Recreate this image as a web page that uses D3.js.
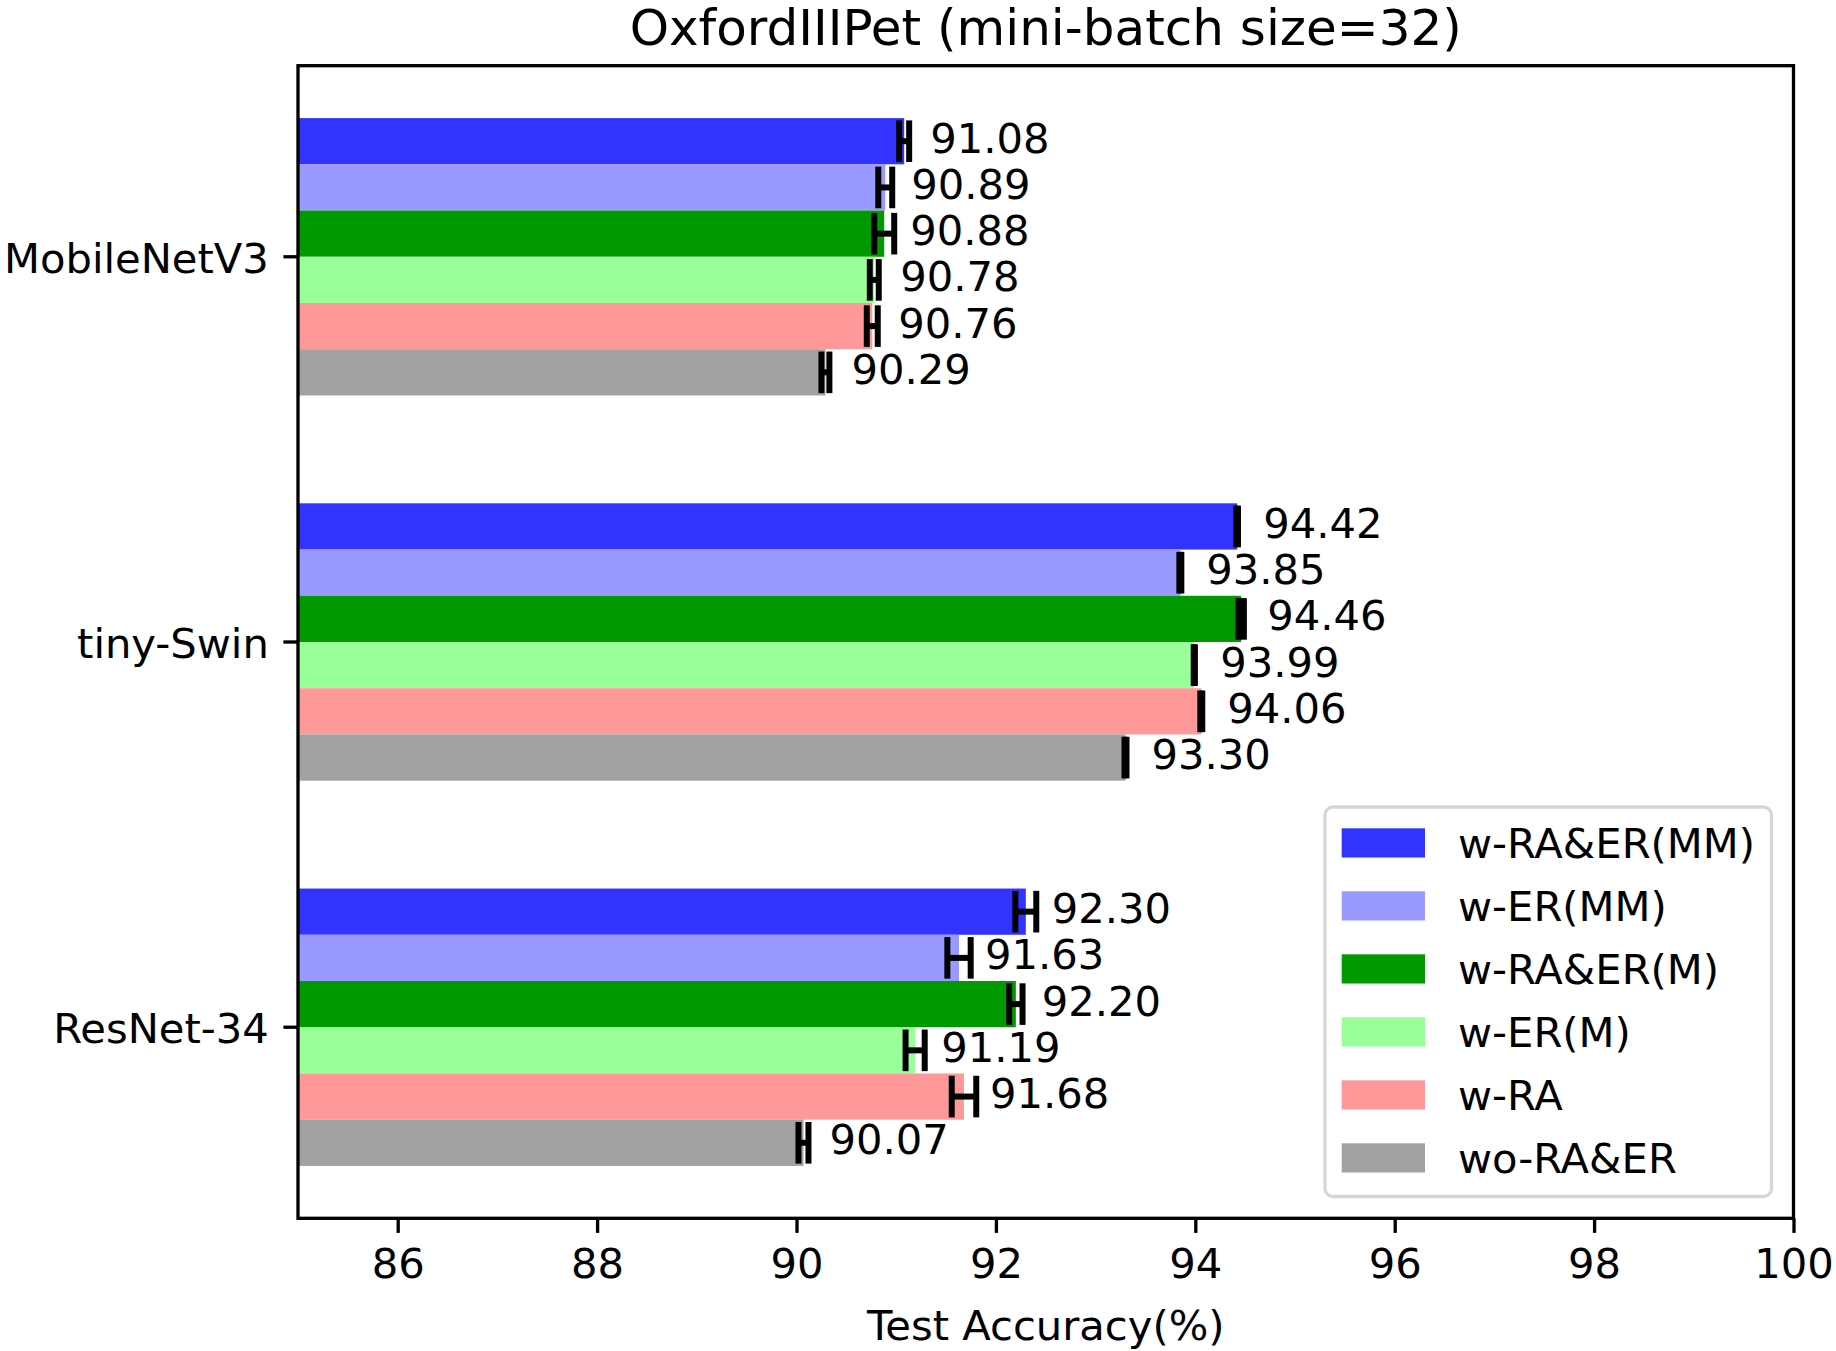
<!DOCTYPE html>
<html lang="en">
<head>
<meta charset="UTF-8"/>
<script src="https://cdn.jsdelivr.net/npm/d3@7"></script>
<style>
body { margin: 0; background: white; }
svg { display: block; }
text { font-family: 'DejaVu Sans', sans-serif; fill: black; }
</style>
</head>
<body>
<svg width="1836" height="1351"></svg>
<script>
// data
const models = ['MobileNetV3', 'tiny-Swin', 'ResNet-34'];
const methods = ['w-RA&ER(MM)', 'w-ER(MM)', 'w-RA&ER(M)', 'w-ER(M)', 'w-RA', 'wo-RA&ER'];
const colors = ['#3333ff', '#9999ff', '#009900', '#99ff99', '#ff9999', '#a2a2a2'];

const accMobileNet = [91.08, 90.89, 90.88, 90.78, 90.76, 90.29];
const errMobileNet = [0.05, 0.07, 0.10, 0.045, 0.055, 0.04];
const accSwin = [94.42, 93.85, 94.46, 93.99, 94.06, 93.30];
const errSwin = [0.008, 0.01, 0.027, 0.006, 0.01, 0.01];
const accResNet = [92.30, 91.63, 92.20, 91.19, 91.68, 90.07];
const errResNet = [0.105, 0.117, 0.067, 0.096, 0.123, 0.05];

const xTicks = [86, 88, 90, 92, 94, 96, 98, 100];

const acc = [accMobileNet, accSwin, accResNet];
const err = [errMobileNet, errSwin, errResNet];

const svg = d3.select('svg');

const plotL = 298, plotR = 1793.5, plotT = 65.7, plotB = 1218.3;
const barH = 0.12;

const x = d3.scaleLinear().domain([85, 100]).range([plotL, plotR]);
const y = d3.scaleLinear().domain([-0.496, 2.496]).range([plotT, plotB]);

const rows = [];
models.forEach((m, i) => {
  methods.forEach((k, j) => {
    rows.push({
      model: i, method: j, v: acc[i][j], e: err[i][j],
      c: i - 0.36 + (j + 0.5) * barH
    });
  });
});

const hPx = y(barH) - y(0);

// bars
svg.append('g').selectAll('rect')
  .data(rows).join('rect')
  .attr('x', x(85))
  .attr('y', d => y(d.c) - hPx / 2)
  .attr('width', d => x(d.v) - x(85))
  .attr('height', hPx)
  .attr('fill', d => colors[d.method]);

// error bars
const eb = svg.append('g').attr('stroke', 'black').attr('stroke-width', 6);
const cap = 20.8;
eb.selectAll('line.h').data(rows).join('line').attr('class', 'h')
  .attr('x1', d => x(d.v - d.e)).attr('x2', d => x(d.v + d.e))
  .attr('y1', d => y(d.c)).attr('y2', d => y(d.c));
eb.selectAll('line.cl').data(rows).join('line').attr('class', 'cl')
  .attr('x1', d => x(d.v - d.e)).attr('x2', d => x(d.v - d.e))
  .attr('y1', d => y(d.c) - cap).attr('y2', d => y(d.c) + cap);
eb.selectAll('line.cr').data(rows).join('line').attr('class', 'cr')
  .attr('x1', d => x(d.v + d.e)).attr('x2', d => x(d.v + d.e))
  .attr('y1', d => y(d.c) - cap).attr('y2', d => y(d.c) + cap);

// value labels
svg.append('g').selectAll('text')
  .data(rows).join('text')
  .attr('x', d => x(d.v) + 26)
  .attr('y', d => y(d.c) + 11.5)
  .attr('font-size', 41.67)
  .text(d => d.v.toFixed(2));

// x axis
const xAxis = svg.append('g')
  .attr('transform', `translate(0,${plotB})`)
  .call(d3.axisBottom(x).tickValues(xTicks).tickSize(14.6).tickPadding(16).tickFormat(d3.format('d')));
xAxis.select('.domain').remove();
xAxis.selectAll('.tick line').attr('stroke-width', 3.33).attr('stroke', 'black');
xAxis.selectAll('.tick text').attr('font-size', 41.67).attr('font-family', 'DejaVu Sans').attr('dy', '0.71em').attr('fill', 'black');

// y axis
const yAxis = svg.append('g').attr('transform', `translate(${plotL},0)`);
yAxis.selectAll('line').data(models).join('line')
  .attr('x1', 0).attr('x2', -14.6)
  .attr('y1', (d, i) => y(i)).attr('y2', (d, i) => y(i))
  .attr('stroke', 'black').attr('stroke-width', 3.33);
yAxis.selectAll('text').data(models).join('text')
  .attr('x', -29.2)
  .attr('y', (d, i) => y(i) + 16)
  .attr('text-anchor', 'end')
  .attr('font-size', 41.67)
  .text(d => d);

// frame
svg.append('rect')
  .attr('x', plotL).attr('y', plotT)
  .attr('width', plotR - plotL).attr('height', plotB - plotT)
  .attr('fill', 'none').attr('stroke', 'black').attr('stroke-width', 3.33);

// titles
svg.append('text')
  .attr('x', (plotL + plotR) / 2).attr('y', 45)
  .attr('text-anchor', 'middle').attr('font-size', 50)
  .text('OxfordIIIPet (mini-batch size=32)');

svg.append('text')
  .attr('x', (plotL + plotR) / 2).attr('y', 1340)
  .attr('text-anchor', 'middle').attr('font-size', 41.67)
  .text('Test Accuracy(%)');

// legend
const lg = svg.append('g').attr('transform', 'translate(1325,807)');
lg.append('rect')
  .attr('width', 446.5).attr('height', 389.5)
  .attr('rx', 8).attr('ry', 8)
  .attr('fill', 'white').attr('fill-opacity', 0.8)
  .attr('stroke', '#d6d6d6').attr('stroke-width', 3.3);
const items = lg.selectAll('g.item').data(methods).join('g').attr('class', 'item')
  .attr('transform', (d, i) => `translate(0,${21.3 + i * 63})`);
items.append('rect')
  .attr('x', 16.7).attr('width', 83.3).attr('height', 29.2)
  .attr('fill', (d, i) => colors[i]);
items.append('text')
  .attr('x', 133).attr('y', 30)
  .attr('font-size', 41.67)
  .text(d => d);
</script>
</body>
</html>
